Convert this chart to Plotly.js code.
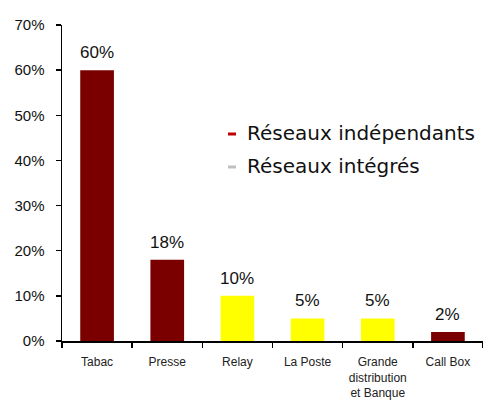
<!DOCTYPE html>
<html><head><meta charset="utf-8">
<script src="https://cdn.plot.ly/plotly-3.0.1.min.js"></script>
<style>html,body{margin:0;padding:0;background:#fff}</style>
</head><body>
<div id="chart" style="width:483px;height:403px"></div>
<script>
const categories = ["Tabac", "Presse", "Relay", "La Poste", "Grande<br>distribution<br>et Banque", "Call Box"];
const values = [60, 18, 10, 5, 5, 2];
const groups = ["ind", "ind", "int", "int", "int", "ind"];
const legendLabels = ["Réseaux indépendants", "Réseaux intégrés"];
const groupColors = {ind: "#7A0000", int: "#FFFF00"};
const dashColors = ["#C00000", "#C0C0C0"];

const trace = {
  type: "bar",
  x: categories,
  y: values,
  marker: {color: groups.map(g => groupColors[g]), line: {width: 0}},
  width: 0.48,
  hoverinfo: "none",
  showlegend: false
};

const annotations = categories.map((c, i) => ({
  x: c, y: values[i], xref: "x", yref: "y",
  text: values[i] + "%", showarrow: false,
  yanchor: "bottom", yshift: 6,
  font: {family: "Liberation Sans, Arial, sans-serif", size: 17, color: "#111"}
}));

legendLabels.forEach((t, i) => {
  annotations.push({
    xref: "paper", yref: "paper", x: (245 - 62) / 421, y: 1 - ((133 + i * 33) - 25) / 316,
    xanchor: "left", yanchor: "middle", text: t, showarrow: false,
    font: {family: "DejaVu Sans, sans-serif", size: 20, color: "#111"}
  });
});

const shapes = dashColors.map((col, i) => ({
  type: "line", xref: "paper", yref: "paper",
  x0: (228 - 62) / 421, x1: (236 - 62) / 421,
  y0: 1 - ((134 + i * 33) - 25) / 316, y1: 1 - ((134 + i * 33) - 25) / 316,
  line: {color: col, width: 3}
}));

const layout = {
  width: 483, height: 403,
  margin: {l: 62, r: 0, t: 25, b: 62},
  paper_bgcolor: "#fff", plot_bgcolor: "#fff",
  bargap: 0.52,
  xaxis: {
    type: "category",
    showline: true, linecolor: "#000", linewidth: 1.5,
    ticks: "outside", tickson: "boundaries", ticklen: 5, tickcolor: "#000", tickwidth: 1.5,
    ticklabelstandoff: 9,
    tickfont: {family: "Liberation Sans, Arial, sans-serif", size: 12, color: "#222"},
    showgrid: false, zeroline: false, fixedrange: true
  },
  yaxis: {
    range: [0, 70], dtick: 10, ticksuffix: "%",
    showline: true, linecolor: "#000", linewidth: 1.5,
    ticks: "outside", ticklen: 5, tickcolor: "#000", tickwidth: 1.5,
    ticklabelstandoff: 8,
    tickfont: {family: "Liberation Sans, Arial, sans-serif", size: 15, color: "#111"},
    showgrid: false, zeroline: false, fixedrange: true
  },
  annotations: annotations,
  shapes: shapes
};

Plotly.newPlot("chart", [trace], layout, {displayModeBar: false, staticPlot: true});
</script>
</body></html>
